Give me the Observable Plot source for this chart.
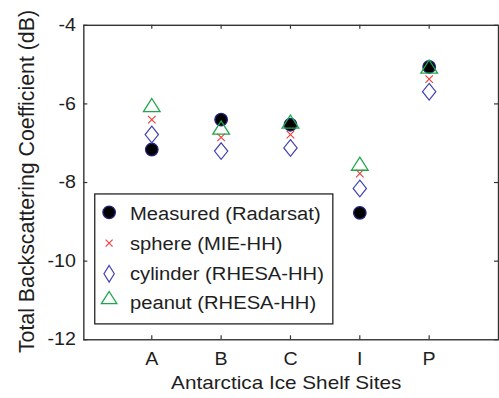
<!DOCTYPE html>
<html>
<head>
<meta charset="utf-8">
<script src="https://cdn.jsdelivr.net/npm/d3@7"></script>
<script src="https://cdn.jsdelivr.net/npm/@observablehq/plot@0.6"></script>
<style>
  html, body { margin: 0; padding: 0; background: #fff; overflow: hidden; }
  #chart { position: relative; width: 499px; height: 398px; overflow: hidden; }
</style>
</head>
<body>
<div id="chart"></div>
<script>
// ---- data ----
const sites = ["A", "B", "C", "I", "P"];
const measured = [-7.16, -6.40, -6.53, -8.77, -5.06];
const sphere   = [-6.40, -6.85, -6.78, -7.77, -5.37];
const cylinder = [-6.78, -7.20, -7.12, -8.15, -5.69];
const peanut   = [-6.03, -6.60, -6.45, -7.52, -5.05];
const yTicks = [-12, -10, -8, -6, -4];
const seriesNames = ["Measured (Radarsat)", "sphere (MIE-HH)", "cylinder (RHESA-HH)", "peanut (RHESA-HH)"];
const xLabel = "Antarctica Ice Shelf Sites";
const yLabel = "Total Backscattering Coefficient (dB)";

const pos = sites.map((s, i) => i + 1);
const rows = (vals) => vals.map((v, i) => ({x: i + 1, y: v}));

// custom symbols
const diamondTall = {draw(ctx, size) {
  const r = Math.sqrt(size / Math.PI), w = r * 0.8;
  ctx.moveTo(0, -r); ctx.lineTo(w, 0); ctx.lineTo(0, r); ctx.lineTo(-w, 0); ctx.closePath();
}};
const diamondLegend = {draw(ctx, size) {
  const r = Math.sqrt(size / Math.PI), w = r * 0.62;
  ctx.moveTo(0, -r); ctx.lineTo(w, 0); ctx.lineTo(0, r); ctx.lineTo(-w, 0); ctx.closePath();
}};
const triWide = {draw(ctx, size) {
  const r = Math.sqrt(size / Math.PI), h = r * 0.79;
  ctx.moveTo(0, -h); ctx.lineTo(r, h); ctx.lineTo(-r, h); ctx.closePath();
}};
const timesSym = {draw(ctx, size) {
  const a = Math.sqrt(size / Math.PI);
  ctx.moveTo(-a, -a); ctx.lineTo(a, a); ctx.moveTo(-a, a); ctx.lineTo(a, -a);
}};

const FONT = "'Liberation Sans', Arial, sans-serif";
const frameStroke = "#333";
const cMeasFill = "#000", cMeasStroke = "#23237e";
const cRed = "#ee3b3b", cBlue = "#4040b4", cGreen = "#1fa64a";

const plot = Plot.plot({
  width: 503, height: 398,
  marginLeft: 84, marginRight: 1, marginTop: 25, marginBottom: 56,
  style: {fontFamily: FONT, fontSize: "18px", color: "#1e1e1e", background: "#fff", overflow: "visible"},
  x: {domain: [0.02, 6]},
  y: {domain: [-12, -4]},
  marks: [
    Plot.axisX({ticks: pos, tickFormat: i => sites[i - 1], tickSize: 0, tickPadding: 13, label: null, fontSize: 18}),
    Plot.axisY({ticks: yTicks, tickFormat: d => String(d), tickSize: 0, tickPadding: 8, label: null, fontSize: 18}),
    // inward ticks
    Plot.tickX(pos, {x: d => d, insetTop: 313, stroke: frameStroke, strokeWidth: 1.2}),
    Plot.tickX(pos, {x: d => d, insetBottom: 313, stroke: frameStroke, strokeWidth: 1.2}),
    Plot.tickY(yTicks, {y: d => d, insetRight: 414, stroke: frameStroke, strokeWidth: 1.2}),
    Plot.tickY(yTicks, {y: d => d, insetLeft: 414, stroke: frameStroke, strokeWidth: 1.2}),
    Plot.frame({stroke: frameStroke, strokeWidth: 1.4}),
    // data
    Plot.dot(rows(measured), {x: "x", y: "y", r: 6.3, fill: cMeasFill, stroke: cMeasStroke, strokeWidth: 1.3}),
    Plot.dot(rows(sphere), {x: "x", y: "y", symbol: timesSym, r: 3.8, fill: "none", stroke: cRed, strokeWidth: 1.1}),
    Plot.dot(rows(cylinder), {x: "x", y: "y", symbol: diamondTall, r: 8.4, fill: "none", stroke: cBlue, strokeWidth: 1.2}),
    Plot.dot(rows(peanut), {x: "x", y: "y", symbol: triWide, r: 8.4, fill: "none", stroke: cGreen, strokeWidth: 1.3}),
    // axis titles
    Plot.text([xLabel], {text: d => d, frameAnchor: "bottom", textAnchor: "middle", dx: -5, dy: 36, lineAnchor: "top", fontSize: 19, fill: "#1e1e1e", className: "stretch"}),
    Plot.text([yLabel], {text: d => d, frameAnchor: "left", textAnchor: "middle", dx: -50, dy: -1, rotate: -90, lineAnchor: "bottom", fontSize: 21.5, fill: "#1e1e1e"})
  ]
});

document.getElementById("chart").appendChild(plot);
const svg = d3.select(plot);

// legend
const lg = svg.append("g").attr("font-family", FONT).attr("font-size", 18.5).attr("fill", "#1e1e1e").attr("text-anchor", "start");
lg.append("rect").attr("x", 95.5).attr("y", 195.5).attr("width", 240).attr("height", 131)
  .attr("fill", "#fff").attr("stroke", "#222").attr("stroke-width", 1.3);
const legendSpec = [
  {name: seriesNames[0], type: d3.symbolCircle, r: 6.3, fill: cMeasFill, stroke: cMeasStroke, sw: 1.3, my: 214, ty: 222},
  {name: seriesNames[1], type: timesSym, r: 3.5, fill: "none", stroke: cRed, sw: 1.1, my: 245, ty: 252},
  {name: seriesNames[2], type: diamondLegend, r: 8.4, fill: "none", stroke: cBlue, sw: 1.2, my: 276, ty: 282},
  {name: seriesNames[3], type: triWide, r: 7.8, fill: "none", stroke: cGreen, sw: 1.3, my: 300, ty: 311}
];
legendSpec.forEach(s => {
  lg.append("path").attr("d", d3.symbol(s.type, Math.PI * s.r * s.r)())
    .attr("transform", `translate(110,${s.my})`).attr("fill", s.fill).attr("stroke", s.stroke).attr("stroke-width", s.sw);
  lg.append("text").attr("class", "stretch").attr("x", 131).attr("y", s.ty).attr("text-anchor", "start").text(s.name);
});

// stretch horizontally-written texts slightly (reference glyphs are wide)
svg.selectAll("g[aria-label='x-axis tick label'] text, g[aria-label='y-axis tick label'] text, .stretch text, text.stretch")
  .each(function() {
    const len = this.getComputedTextLength();
    if (len > 0) {
      this.setAttribute("textLength", (len * 1.1).toFixed(1));
      this.setAttribute("lengthAdjust", "spacingAndGlyphs");
    }
  });
</script>
</body>
</html>
